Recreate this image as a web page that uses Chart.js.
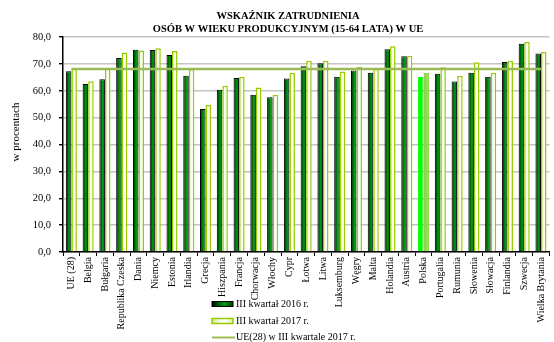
<!DOCTYPE html>
<html>
<head>
<meta charset="utf-8">
<script src="https://cdn.jsdelivr.net/npm/chart.js@4/dist/chart.umd.min.js"></script>
<style>
  html, body { margin: 0; padding: 0; background: #fff; }
  #wrap { width: 554px; height: 342px; }
</style>
</head>
<body>
<div id="wrap"><canvas id="employment-chart"></canvas></div>
<script>
// Wskaźnik zatrudnienia 15-64 lata, III kwartał
const countries = ['UE (28)', 'Belgia', 'Bułgaria', 'Republika Czeska', 'Dania', 'Niemcy', 'Estonia',
  'Irlandia', 'Grecja', 'Hiszpania', 'Francja', 'Chorwacja', 'Włochy', 'Cypr', 'Łotwa', 'Litwa',
  'Luksemburg', 'Węgry', 'Malta', 'Holandia', 'Austria', 'Polska', 'Portugalia', 'Rumunia',
  'Słowenia', 'Słowacja', 'Finlandia', 'Szwecja', 'Wielka Brytania'];
const rate2016 = [67.3, 62.5, 64.3, 72.2, 75.3, 75.2, 73.3, 65.6, 53.2, 60.4, 64.7, 58.5, 57.6, 64.6,
  69.1, 70.2, 65.2, 67.5, 66.7, 75.4, 72.8, 65.1, 66.3, 63.4, 66.7, 65.2, 70.7, 77.5, 73.9];
const rate2017 = [68.1, 63.5, 68.2, 74.2, 75.0, 75.8, 74.8, 68.0, 54.7, 61.9, 65.1, 61.2, 58.5, 66.7,
  71.2, 71.2, 67.2, 68.8, 68.1, 76.6, 73.0, 66.7, 68.7, 65.6, 70.6, 66.7, 71.2, 78.1, 74.4];
const seriesLabels = ['III kwartał 2016 r.', 'III kwartał 2017 r.', 'UE(28) w III kwartale 2017 r.'];
const titleLines = ['WSKAŹNIK ZATRUDNIENIA', 'OSÓB W WIEKU PRODUKCYJNYM (15-64 LATA) W UE'];
const yAxisTitle = 'w procentach';

const highlight = countries.indexOf('Polska');
const euLevel = countries.map(() => rate2017[0]);
const SERIF = "'Liberation Serif', 'Times New Roman', serif";

function darkGradient(ctx, x0, x1) {
  const g = ctx.createLinearGradient(x0, 0, x1, 0);
  g.addColorStop(0, '#000000');
  g.addColorStop(0.3, '#005a08');
  g.addColorStop(0.6, '#00a012');
  g.addColorStop(1, '#003800');
  return g;
}
function lightGradient(ctx, x0, x1) {
  const g = ctx.createLinearGradient(x0, 0, x1, 0);
  g.addColorStop(0, '#c6ea8a');
  g.addColorStop(0.35, '#f2fbe4');
  g.addColorStop(0.65, '#ffffff');
  g.addColorStop(1, '#d2f0a4');
  return g;
}

// shaded bar fills, built from each bar's own geometry
const barShading = {
  id: 'barShading',
  beforeDatasetsDraw(chart) {
    const ctx = chart.ctx;
    [0, 1].forEach(di => {
      chart.getDatasetMeta(di).data.forEach((el, i) => {
        if (i === highlight) return;
        const x0 = el.x - el.width / 2, x1 = el.x + el.width / 2;
        const fill = di === 0 ? darkGradient(ctx, x0, x1) : lightGradient(ctx, x0, x1);
        el.options = Object.assign({}, el.options, { backgroundColor: fill });
      });
    });
  }
};

// title, axis title and legend
const extras = {
  id: 'extras',
  afterDraw(chart) {
    const ctx = chart.ctx;
    const ds = chart.data.datasets;
    ctx.save();
    ctx.fillStyle = '#000';
    ctx.textAlign = 'center';
    ctx.textBaseline = 'middle';
    ctx.font = 'bold 10.5px ' + SERIF;
    ctx.fillText(titleLines[0], 288, 16);
    ctx.fillText(titleLines[1], 288, 29);

    ctx.font = '11px ' + SERIF;
    ctx.translate(16, 132);
    ctx.rotate(-Math.PI / 2);
    ctx.fillText(yAxisTitle, 0, 0);
    ctx.setTransform(1, 0, 0, 1, 0, 0);

    const lx = 212, lw = 21, tx = 236;
    ctx.textAlign = 'left';
    ctx.font = '10px ' + SERIF;

    ctx.fillStyle = darkGradient(ctx, lx, lx + lw);
    ctx.fillRect(lx, 301.5, lw, 5);
    ctx.strokeStyle = '#000';
    ctx.lineWidth = 1;
    ctx.strokeRect(lx, 301.5, lw, 5);
    ctx.fillStyle = '#000';
    ctx.fillText(ds[0].label, tx, 304.5);

    ctx.fillStyle = lightGradient(ctx, lx, lx + lw);
    ctx.fillRect(lx, 318.5, lw, 5);
    ctx.strokeStyle = '#99cc00';
    ctx.lineWidth = 1.5;
    ctx.strokeRect(lx, 318.5, lw, 5);
    ctx.fillStyle = '#000';
    ctx.fillText(ds[1].label, tx, 321.5);

    ctx.strokeStyle = ds[2].borderColor;
    ctx.lineWidth = 2;
    ctx.beginPath();
    ctx.moveTo(lx, 337.5);
    ctx.lineTo(lx + lw + 2, 337.5);
    ctx.stroke();
    ctx.fillText(ds[2].label, tx, 337.5);
    ctx.restore();
  }
};

new Chart(document.getElementById('employment-chart'), {
  type: 'bar',
  data: {
    labels: countries,
    datasets: [
      {
        label: seriesLabels[0],
        data: rate2016,
        backgroundColor: countries.map((c, i) => i === highlight ? '#00ff00' : '#006600'),
        borderColor: countries.map((c, i) => i === highlight ? '#00ff00' : '#000000'),
        borderWidth: 1,
        categoryPercentage: 0.66,
        barPercentage: 1,
        order: 1
      },
      {
        label: seriesLabels[1],
        data: rate2017,
        backgroundColor: countries.map((c, i) => i === highlight ? '#92d050' : '#f4fce8'),
        borderColor: countries.map((c, i) => i === highlight ? '#92d050' : '#99cc00'),
        borderWidth: 1.5,
        categoryPercentage: 0.66,
        barPercentage: 1,
        order: 1
      },
      {
        type: 'line',
        label: seriesLabels[2],
        data: euLevel,
        borderColor: '#9bbb59',
        borderWidth: 2.5,
        pointRadius: 0,
        fill: false,
        order: 0
      }
    ]
  },
  options: {
    responsive: true,
    maintainAspectRatio: false,
    animation: false,
    layout: { padding: { top: 37, right: 1, left: 0, bottom: 0 } },
    plugins: {
      legend: { display: false },
      title: { display: false },
      tooltip: { enabled: false }
    },
    scales: {
      x: {
        afterFit(scale) { scale.height = 90; },
        grid: { drawOnChartArea: false, tickLength: 4, color: '#000', tickColor: '#000' },
        border: { color: '#000', width: 1.5 },
        ticks: {
          autoSkip: false, maxRotation: 90, minRotation: 90, padding: 1,
          color: '#000', font: { family: SERIF, size: 10 }
        }
      },
      y: {
        min: 0, max: 80,
        afterFit(scale) { scale.width = 63; },
        grid: { color: '#c4c4c4', lineWidth: 1.4, tickLength: 4, tickColor: '#000' },
        border: { color: '#000', width: 1.5 },
        ticks: {
          stepSize: 10, padding: 8, color: '#000',
          font: { family: SERIF, size: 10.5 },
          callback: v => v.toFixed(1).replace('.', ',')
        }
      }
    }
  },
  plugins: [barShading, extras]
});
</script>
</body>
</html>
